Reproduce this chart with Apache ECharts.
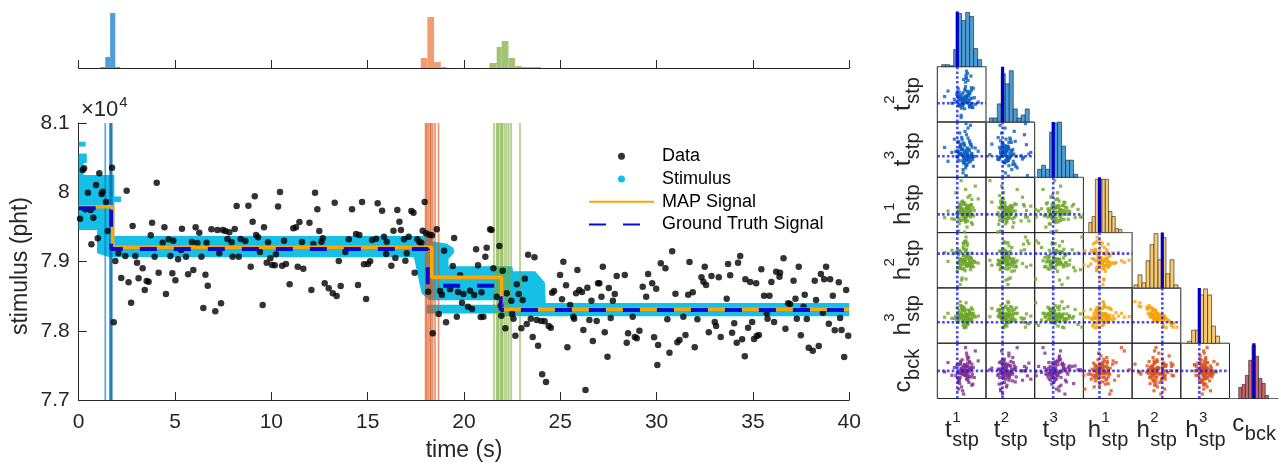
<!DOCTYPE html>
<html>
<head>
<meta charset="utf-8">
<title>Step detection posterior</title>
<script src="https://cdn.jsdelivr.net/npm/echarts@6.0.0/dist/echarts.min.js"></script>
<style>
  html, body { margin: 0; padding: 0; background: #ffffff; }
  #chart { width: 1281px; height: 466px; }
</style>
</head>
<body>
<div id="chart"></div>
<script>
// ---------------- recorded photon counts ----------------
const dataTime = [
  0.07,0.21,0.28,0.34,0.48,0.62,0.66,0.76,0.90,0.99,1.07,1.19,1.24,1.42,1.50,1.73,1.82,1.90,2.06,2.21,
  2.42,2.49,2.59,2.72,2.80,2.94,3.03,3.11,3.32,3.43,3.53,3.63,3.74,3.81,3.94,4.05,4.15,4.36,4.45,4.53,
  4.67,4.76,4.86,4.91,5.02,5.16,5.31,5.36,5.57,5.68,5.88,5.95,6.07,6.16,6.26,6.37,6.47,6.58,6.64,6.70,
  6.89,7.09,7.20,7.30,7.39,7.48,7.61,7.72,7.82,7.94,7.99,8.10,8.20,8.31,8.41,8.65,8.81,8.93,9.03,9.14,
  9.21,9.31,9.41,9.55,9.62,9.76,9.83,9.95,10.04,10.18,10.24,10.35,10.45,10.56,10.66,10.76,10.95,11.14,11.28,11.37,
  11.46,11.59,11.66,11.98,12.08,12.18,12.27,12.39,12.49,12.60,12.67,12.77,12.98,13.19,13.29,13.39,13.50,
  13.60,13.84,14.02,14.19,14.40,14.50,14.57,14.71,14.81,14.92,15.02,15.13,15.23,15.44,15.52,15.75,15.85,15.96,15.99,16.23,
  16.34,16.44,16.54,16.65,16.73,16.89,16.96,17.03,17.13,17.27,17.38,17.44,17.58,17.69,17.79,17.86,17.96,18.03,18.14,18.21,
  18.34,18.38,18.59,18.69,18.76,18.86,18.97,19.07,19.28,19.42,19.49,19.63,19.69,19.80,19.90,19.97,20.21,
  20.32,20.42,20.53,20.63,20.73,20.87,20.91,21.01,21.11,21.18,21.36,21.43,21.53,21.70,21.84,21.91,21.94,22.01,22.15,22.22,
  22.46,22.50,22.57,22.67,22.74,22.84,22.98,23.05,23.16,23.26,23.33,23.47,23.57,23.66,23.78,23.85,24.02,24.06,24.19,24.26,
  24.40,24.51,24.58,24.68,24.99,25.09,25.16,25.30,25.37,25.51,25.68,25.72,25.82,25.89,25.99,26.13,26.20,26.31,26.41,26.51,
  26.62,26.69,26.89,26.96,
  27.03,27.14,27.21,27.31,27.45,27.52,27.62,27.73,27.83,27.93,28.35,28.45,28.52,28.76,28.87,28.97,29.11,29.28,29.46,29.56,
  29.77,29.87,29.98,30.04,30.08,30.22,30.46,30.56,30.67,30.81,30.98,31.08,31.19,31.39,31.50,31.64,31.71,31.88,31.98,32.12,
  32.33,32.43,32.50,32.57,32.71,32.85,33.02,33.09,33.23,33.33,33.71,
  33.64,33.82,33.92,34.03,34.16,34.23,34.34,34.44,34.58,34.61,34.75,34.86,34.96,35.06,35.17,35.20,35.31,35.44,35.58,35.72,
  35.76,35.86,35.96,36.10,36.21,36.38,36.41,36.59,36.69,36.83,36.93,37.11,37.21,37.28,37.38,37.49,37.63,37.69,37.80,37.90,
  38.11,38.21,38.28,38.42,38.53,38.63,38.70,38.80,38.94,39.01,39.15,39.25,39.46,39.53,39.60,39.74,39.84,39.95
];
const dataValue = [
  79618,80321,80345,79753,79994,79744,79248,79633,80104,79334,80273,79975,80008,79859,79440,80355,78122,79007,79118,78762,
  79079,80023,78699,78405,79512,79079,78983,78757,78901,78588,78718,78709,79378,79561,79070,80138,78839,79272,79493,78531,
  79320,79079,78829,79301,78728,79031,79166,79474,79070,78815,79281,78877,79493,79267,79416,79070,78328,78810,79272,78651,
  79464,78280,79455,79118,78396,79455,79440,79325,79421,79277,79070,79469,79801,79070,79325,79296,79806,78925,79575,79941,
  79383,79349,79137,78372,79493,78983,79277,79046,78949,78945,79103,79796,80003,78940,79301,78964,78670,79479,79493,78925,
  79570,79281,78896,79561,78588,79253,79994,79753,79440,79286,79334,78685,78612,78540,79849,78502,79007,
  78646,79137,79320,79753,79397,78661,79383,79859,78959,78458,78964,79002,79310,79330,79840,79734,79358,79108,79286,78940,
  79445,79050,79744,79575,79455,79320,79012,79118,79358,79729,79705,78839,79320,79281,79272,79445,79859,79407,78564,79387,
  79378,77963,79464,78242,78574,78521,79156,78122,78598,78935,79339,78203,78560,78800,78405,78531,78348,
  78579,78314,78516,79176,78945,78199,78555,78203,79070,79200,79464,79455,78901,78492,79224,78362,78218,78868,78035,78540,
  78434,78242,78175,77929,78670,78531,78035,78444,78752,78098,79099,78175,77910,79060,78155,77785,78141,77371,78136,77260,
  78069,78045,78550,78574,78805,78454,78998,78656,77761,78372,78203,78175,78540,78877,78588,78560,78011,77145,78622,78155,
  78434,77852,78141,78685,
  78685,78492,78925,77977,77626,78617,78184,78434,78531,78791,78805,77828,77963,78203,77910,77890,78001,78637,78492,78819,
  78685,77905,78608,77505,77794,78973,78901,78165,77684,79147,78535,77833,77866,78203,77939,78521,78993,78555,77761,78165,
  78771,78709,78925,78661,77977,78790,78126,78069,78771,77910,78964,
  78463,78800,77972,78107,77828,78983,79079,77876,77631,78742,78045,78704,78126,77881,78685,77924,77939,78887,78507,78251,
  78175,78507,78704,78126,78853,78781,78839,79046,78030,78396,78386,78723,78463,78175,78925,77934,78348,78521,78170,77756,
  77712,78723,78444,77780,78819,78261,78742,78925,78102,78742,78507,78006,78699,78184,78011,77621,78588,77929
];

// ---------------- step signals: change times (s) and plateau levels (pht) ----------------
const mapSteps = [1.76, 18.33, 21.95];
const mapLevels = [79790, 79205, 78771, 78310];
const truthSteps = [1.68, 18.12, 21.91];
const truthLevels = [79770, 79180, 78650, 78300];

// ---------------- stimulus envelope outlines, [time, pht] ----------------
const stimMain = [
  [0, 80250], [1.85, 80250], [1.85, 79940], [2.2, 79940], [2.2, 79860], [1.85, 79860], [1.85, 79370],
  [18.38, 79370], [18.38, 79290], [19.1, 79260], [19.45, 79200], [19.5, 79130], [19.2, 79040], [19.2, 78930],
  [22.5, 78930], [22.55, 78860], [23.7, 78860], [24.2, 78700], [24.25, 78400], [40, 78400],
  [40, 78210], [21.85, 78210], [21.85, 78440], [18.2, 78440], [17.8, 78540], [17.6, 78800], [17.45, 79000], [17.4, 79060],
  [1.6, 79060], [0.95, 79120], [0.95, 79455], [0, 79455]
];
const stimLowerStrip = [[18.05, 78375], [21.85, 78375], [21.85, 78250], [18.05, 78250]];
const stimTopA = [[0, 80250], [0.25, 80250], [0.25, 80420], [0.42, 80420], [0.42, 80560], [0, 80560]];
const stimTopB = [[0, 80660], [0.36, 80660], [0.36, 80730], [0, 80730]];

// ---------------- change-point draws (s) ----------------
const stepDraws1 = [1.38, 1.62, 1.66, 1.69, 1.72];
const stepDraws2 = [18.01, 18.06, 18.15, 18.24, 18.29, 18.38, 18.50, 18.68];
const stepDraws3 = [21.56, 21.70, 21.75, 21.81, 21.91, 21.96, 22.01, 22.12, 22.22, 22.33, 22.45, 22.91];

// ---------------- change-time histograms (bin edges, counts) ----------------
const stepHistEdges1 = [1.13, 1.38, 1.63, 1.90, 2.15];
const stepHistCounts1 = [1, 11, 55, 1];
const stepHistEdges2 = [17.76, 18.10, 18.45, 18.80, 19.10];
const stepHistCounts2 = [10, 51, 6, 1];
const stepHistEdges3 = [21.32, 21.70, 21.96, 22.31, 22.65, 23.00, 23.50, 24.00];
const stepHistCounts3 = [5, 21, 27, 10, 2, 1, 1];

// ---------------- posterior samples ----------------
const sampT1 = [
  1.79,1.88,1.74,1.93,1.82,1.70,1.98,1.85,1.77,1.91, 1.72,1.96,1.80,1.87,1.65,1.84,2.00,1.75,1.89,1.81,
  1.94,1.71,1.86,1.78,1.97,1.62,1.90,1.83,1.73,1.95, 1.49,1.85,1.76,1.92,1.80,2.05,1.69,1.87,1.82,1.99,
  1.74,1.89,1.84,1.77,1.93,1.67,1.86,2.11,1.79,1.96, 1.72,1.90,1.83,1.88,1.75,2.01,1.81,1.85,1.70,1.92,
  1.78,1.94,1.42,1.87,1.80,1.97,1.73,1.84,1.89,1.76, 1.91,1.82,1.68,1.95,1.79,1.86,2.03,1.74,1.88,1.83,
  1.71,1.93,1.77,1.85,1.57,1.90,1.81,1.98,1.75,1.87
];
const sampT2 = [
  18.13,18.20,18.06,18.29,18.16,18.38,18.11,18.23,18.03,18.33, 18.18,18.61,18.09,18.25,18.14,18.36,18.05,18.22,18.66,18.17,
  18.30,18.08,18.24,18.12,18.40,18.19,18.53,18.15,18.27,18.07, 18.34,18.21,17.90,18.16,18.31,18.10,18.26,18.57,18.18,18.04,
  18.23,18.13,18.37,18.20,18.08,18.28,18.63,18.14,18.22,18.11, 18.32,18.17,18.02,18.25,18.19,18.39,18.12,18.50,18.21,18.15,
  18.28,18.06,18.24,18.70,18.18,18.35,18.10,18.23,18.16,17.86, 18.26,18.13,18.31,18.20,18.08,18.59,18.22,18.17,18.33,18.14,
  18.25,18.05,18.19,18.42,18.12,18.27,18.55,18.21,18.09,18.24
];
const sampT3 = [
  21.94,21.85,22.07,22.01,21.80,22.18,21.96,21.89,22.25,22.03, 21.83,22.12,21.92,21.74,22.00,22.36,21.88,22.09,21.95,21.79,
  22.16,21.98,21.55,22.04,21.91,22.22,21.86,22.10,21.96,22.47, 21.82,22.01,22.13,21.92,21.67,22.06,21.88,22.30,21.98,21.85,
  22.09,21.95,21.77,22.03,22.19,21.91,21.56,22.00,21.83,22.12, 21.94,22.42,21.86,22.04,21.96,21.73,22.15,21.92,22.01,21.80,
  22.21,21.89,22.07,21.98,21.61,21.95,22.33,21.85,22.06,21.94, 21.88,22.13,22.00,21.82,22.03,22.50,21.91,22.10,21.76,21.96,
  22.16,21.86,22.04,21.70,21.98,22.24,21.89,22.07,21.95,21.83
];
const sampH1 = [
  590,600,579,606,585,596,617,582,593,605, 573,597,609,588,629,584,602,591,578,611,
  594,560,599,587,608,581,621,591,603,585, 596,576,612,590,600,641,584,605,593,572,
  597,588,609,579,602,591,585,618,596,606, 582,599,558,593,603,587,611,578,594,600,
  590,624,584,605,596,575,608,588,599,651, 591,581,602,594,614,585,597,606,567,593,
  603,588,599,635,582,596,608,590,600,587
];
const sampH2 = [
  516,508,534,520,503,513,531,550,518,511, 536,506,515,523,532,499,517,510,548,526,
  514,535,484,519,507,530,512,552,521,501, 516,533,509,525,541,514,504,537,518,511,
  474,529,515,520,508,534,553,513,502,522, 517,531,510,544,516,506,527,535,512,519,
  486,514,532,509,549,521,505,515,530,518, 511,538,498,523,513,560,516,533,507,520,
  528,512,482,517,536,510,547,514,503,525
];
const sampH3 = [
  371,362,361,352,377,354,355,349,360,363, 357,365,358,360,361,373,363,363,347,363,
  356,359,385,354,376,357,356,341,365,365, 366,343,375,356,354,359,367,357,354,373,
  387,364,352,366,365,353,348,361,375,354, 371,346,371,352,358,366,356,358,362,365,
  378,367,359,361,344,355,360,372,363,360, 372,340,377,355,373,341,361,360,359,361,
  350,371,379,366,357,362,350,359,380,363
];
const sampC = [
  78297,78308,78288,78317,78300,78280,78312,78292,78303,78324, 78285,78305,78295,78332,78291,78309,78276,78300,78314,78294,
  78303,78267,78298,78320,78289,78306,78283,78311,78295,78302, 78315,78292,78305,78279,78297,78336,78288,78308,78300,78294,
  78312,78286,78303,78271,78298,78309,78291,78318,78295,78305, 78282,78302,78292,78327,78297,78306,78258,78300,78311,78289,
  78294,78315,78298,78285,78308,78303,78277,78295,78321,78302, 78291,78311,78297,78305,78264,78300,78288,78314,78294,78306,
  78283,78303,78297,78342,78292,78309,78300,78274,78317,78295
];

// parameter names, true values and plotting ranges
const paramBase = ['t', 't', 't', 'h', 'h', 'h', 'c'];
const paramSup = ['1', '2', '3', '1', '2', '3', ''];
const paramSub = ['stp', 'stp', 'stp', 'stp', 'stp', 'stp', 'bck'];
const paramTruth = [1.68, 18.12, 21.91, 590, 530, 350, 78300];
const paramMin = [1.27, 17.78, 21.53, 557, 468, 312, 78250];
const paramMax = [2.27, 18.78, 22.53, 657, 568, 412, 78350];

// marginal histograms of the full sample set (first bin edge, bin width, counts)
const histStart = [1.36, 17.848, 21.59, 568, 472, 326, 78269];
const histWidth = [0.082, 0.082, 0.082, 6.8, 8.2, 8.2, 6.8];
const histCountsT1 = [2, 2, 1, 17, 53, 46, 54, 50, 18, 7];
const histCountsT2 = [4, 4, 18, 48, 38, 51, 13, 4, 7, 13];
const histCountsT3 = [8, 12, 8, 45, 54, 55, 31, 17, 17, 3];
const histCountsH1 = [10, 16, 53, 53, 53, 53, 21, 16, 4, 3];
const histCountsH2 = [3, 13, 5, 27, 43, 54, 28, 50, 14, 28, 3];
const histCountsH3 = [2, 13, 13, 48, 54, 48, 17, 7];
const histCountsC = [11, 14, 23, 38, 53, 42, 20, 15, 3];

// ---------------- styling ----------------
const FONT = '"Liberation Sans", Arial, Helvetica, sans-serif';
const INK = '#262626';
const STIM = '#16bfe6';
const MAPC = '#ffa500';
const GTC = '#0a0ccc';

const samples = [sampT1, sampT2, sampT3, sampH1, sampH2, sampH3, sampC];
const histCounts = [histCountsT1, histCountsT2, histCountsT3, histCountsH1, histCountsH2, histCountsH3, histCountsC];

const grid = [], xAxis = [], yAxis = [], series = [];
function addGrid(g, xa, ya) {
  const i = grid.length;
  grid.push(g);
  xAxis.push(Object.assign({ type: 'value', gridIndex: i, splitLine: { show: false } }, xa));
  yAxis.push(Object.assign({ type: 'value', gridIndex: i, splitLine: { show: false } }, ya));
  return i;
}
const axisLineStyle = { show: true, onZero: false, lineStyle: { color: INK, width: 1 } };
const tickStyle = { show: true, inside: true, length: 8, lineStyle: { color: INK, width: 1 } };

// main time-series panel
const MAIN = addGrid(
  { left: 78.7, top: 123, width: 770.5, height: 277 },
  { min: 0, max: 40, interval: 5, axisLine: axisLineStyle, axisTick: tickStyle,
    axisLabel: { show: true, fontSize: 21, color: INK, fontFamily: FONT, margin: 12 } },
  { min: 77000, max: 81000, interval: 1000, axisLine: axisLineStyle, axisTick: tickStyle,
    axisLabel: { show: true, fontSize: 21, color: INK, fontFamily: FONT, margin: 9,
                 formatter: v => String(v / 10000) } }
);
// change-time histogram strip above it
const STRIP = addGrid(
  { left: 78.7, top: 12, width: 770.5, height: 56 },
  { min: 0, max: 40, interval: 5, axisLine: axisLineStyle, axisTick: tickStyle, axisLabel: { show: false } },
  { min: 0, max: 56, show: false }
);

function stepPoints(steps, levels) {
  const pts = [[0, levels[0]]];
  steps.forEach((s, i) => { pts.push([s, levels[i]]); pts.push([s, levels[i + 1]]); });
  pts.push([40, levels[levels.length - 1]]);
  return pts;
}

const stimPolys = [stimMain, stimLowerStrip, stimTopA, stimTopB];
series.push({
  name: 'Stimulus', type: 'custom', xAxisIndex: MAIN, yAxisIndex: MAIN, z: 1, silent: true,
  itemStyle: { color: STIM },
  data: stimPolys.map(p => p[0]),
  renderItem: (params, api) => ({
    type: 'polygon',
    shape: { points: stimPolys[params.dataIndex].map(p => api.coord(p)) },
    style: { fill: STIM }
  })
});

function vLineSeries(draws, color) {
  return {
    type: 'custom', xAxisIndex: MAIN, yAxisIndex: MAIN, z: 2, silent: true,
    data: draws.map(t => [t, 79000]),
    renderItem: (params, api) => {
      const x = api.coord([api.value(0), 79000])[0];
      const cs = params.coordSys;
      return { type: 'line', shape: { x1: x, y1: cs.y, x2: x, y2: cs.y + cs.height },
               style: { stroke: color, lineWidth: 1.8 } };
    }
  };
}
series.push(vLineSeries(stepDraws1, 'rgba(0,114,189,0.6)'));
series.push(vLineSeries(stepDraws2, 'rgba(217,83,25,0.6)'));
series.push(vLineSeries(stepDraws3, 'rgba(119,172,48,0.55)'));

series.push({
  name: 'Data', type: 'scatter', xAxisIndex: MAIN, yAxisIndex: MAIN, z: 3, silent: true,
  symbol: 'circle', symbolSize: 6.5, itemStyle: { color: '#000000' },
  data: dataTime.map((t, i) => [t, dataValue[i]])
});
series.push({
  name: 'MAP Signal', type: 'line', xAxisIndex: MAIN, yAxisIndex: MAIN, z: 4, silent: true,
  symbol: 'none', lineStyle: { color: MAPC, width: 3.6 }, itemStyle: { color: MAPC },
  data: stepPoints(mapSteps, mapLevels)
});
series.push({
  name: 'Ground Truth Signal', type: 'line', xAxisIndex: MAIN, yAxisIndex: MAIN, z: 5, silent: true,
  symbol: 'none', lineStyle: { color: GTC, width: 4, type: [17, 17] }, itemStyle: { color: GTC },
  data: stepPoints(truthSteps, truthLevels)
});

function barRender(fill, stroke, lw) {
  return (params, api) => {
    const p0 = api.coord([api.value(0), api.value(2)]);
    const p1 = api.coord([api.value(1), 0]);
    return { type: 'rect', shape: { x: p0[0], y: p0[1], width: p1[0] - p0[0], height: p1[1] - p0[1] },
             style: { fill: fill, stroke: stroke, lineWidth: lw } };
  };
}
[[stepHistEdges1, stepHistCounts1, '#4f9ed8'],
 [stepHistEdges2, stepHistCounts2, '#f39b73'],
 [stepHistEdges3, stepHistCounts3, '#a1c372']].forEach(([edges, counts, col]) => {
  series.push({
    type: 'custom', xAxisIndex: STRIP, yAxisIndex: STRIP, silent: true, z: 2,
    encode: { x: [0, 1], y: 2 },
    data: counts.map((n, i) => [edges[i], edges[i + 1], n]),
    renderItem: barRender(col, null, 0)
  });
});

// ---------------- corner plot ----------------
const CX0 = 937.3, CY0 = 11.4, CW = 48.7, CH = 55.3;
function pairColor(r, c) {
  const kr = paramBase[r], kc = paramBase[c];
  if (kr === 't') return '#0a5fbd';
  if (kr === 'h') return kc === 't' ? '#6ea52a' : '#f6a40c';
  return kc === 't' ? '#7e2f8e' : '#d9531a';
}
function histColor(k) {
  return paramBase[k] === 't' ? '#4b9bd5' : paramBase[k] === 'h' ? '#f8ca70' : '#c9676f';
}
const dotted = { color: 'rgba(25,25,235,0.78)', width: 2.6, type: [2.6, 2.2], cap: 'butt' };

for (let r = 0; r < 7; r++) {
  for (let c = 0; c <= r; c++) {
    const box = { left: CX0 + c * CW, top: CY0 + r * CH, width: CW, height: CH };
    if (r === c) {
      const gi = addGrid(box,
        { min: paramMin[c], max: paramMax[c], axisLine: { show: true, lineStyle: { color: '#6b6b6b', width: 1 } },
          axisTick: { show: false }, axisLabel: { show: false } },
        { min: 0, max: 55, show: false });
      const counts = histCounts[c];
      series.push({
        type: 'custom', xAxisIndex: gi, yAxisIndex: gi, silent: true, z: 2,
        encode: { x: [0, 1], y: 2 },
        data: counts.map((n, i) => [histStart[c] + i * histWidth[c], histStart[c] + (i + 1) * histWidth[c], n]),
        renderItem: barRender(histColor(c), '#1c1c1c', 0.6)
      });
      series.push({
        type: 'line', xAxisIndex: gi, yAxisIndex: gi, silent: true, z: 4, symbol: 'none',
        lineStyle: { color: '#0000c4', width: 3.2 },
        data: [[paramTruth[c], 0], [paramTruth[c], 55]]
      });
    } else {
      box.show = true; box.borderColor = INK; box.borderWidth = 1; box.backgroundColor = 'transparent';
      const gi = addGrid(box,
        { min: paramMin[c], max: paramMax[c], show: false },
        { min: paramMin[r], max: paramMax[r], show: false });
      series.push({
        type: 'scatter', xAxisIndex: gi, yAxisIndex: gi, silent: true, z: 2,
        symbol: 'rect', symbolSize: 3.2, itemStyle: { color: pairColor(r, c) },
        data: samples[c].map((v, k) => [v, samples[r][k]])
      });
      series.push({
        type: 'line', xAxisIndex: gi, yAxisIndex: gi, silent: true, z: 4, symbol: 'none', lineStyle: dotted,
        data: [[paramTruth[c], paramMin[r]], [paramTruth[c], paramMax[r]]]
      });
      series.push({
        type: 'line', xAxisIndex: gi, yAxisIndex: gi, silent: true, z: 4, symbol: 'none', lineStyle: dotted,
        data: [[paramMin[c], paramTruth[r]], [paramMax[c], paramTruth[r]]]
      });
    }
  }
}

// ---------------- text: axis titles and parameter symbols ----------------
const mctx = document.createElement('canvas').getContext('2d');
function textWidth(s, size) { mctx.font = size + 'px ' + FONT; return mctx.measureText(s).width; }
function ts(text, size, align) {
  return { text: text, font: size + 'px ' + FONT, fill: INK,
           textAlign: align, align: align, textVerticalAlign: 'middle', verticalAlign: 'middle' };
}
function symLabel(k, x, y, rotation, shift) {
  const base = paramBase[k], sup = paramSup[k], sub = paramSub[k];
  const wb = textWidth(base, 24);
  const ws = Math.max(textWidth(sub, 20), sup ? textWidth(sup, 15) : 0);
  const x0 = -(wb + ws) / 2;
  const kids = [
    { type: 'text', x: x0, y: shift, style: ts(base, 24, 'left') },
    { type: 'text', x: x0 + wb + 0.5, y: shift + 10, style: ts(sub, 20, 'left') }
  ];
  if (sup) kids.push({ type: 'text', x: x0 + wb + 0.5, y: shift - 13, style: ts(sup, 15, 'left') });
  return { type: 'group', x: x, y: y, rotation: rotation, silent: true, children: kids };
}

const graphic = [
  { type: 'text', x: 20.5, y: 266, rotation: Math.PI / 2, silent: true, style: ts('stimulus (pht)', 23, 'center') },
  { type: 'text', x: 464, y: 451, silent: true, style: ts('time (s)', 23, 'center') },
  { type: 'text', x: 81, y: 110, silent: true, style: ts('\u00d710', 22, 'left') },
  { type: 'text', x: 82 + textWidth('\u00d710', 22), y: 103, silent: true, style: ts('4', 15, 'left') }
];
for (let k = 0; k < 7; k++) {
  graphic.push(symLabel(k, CX0 + (k + 0.5) * CW, 430.4, 0, paramSup[k] ? 0 : -6));
  if (k > 0) graphic.push(symLabel(k, 903, CY0 + (k + 0.5) * CH, Math.PI / 2, 0));
}

const hiddenMarker = { color: 'rgba(0,0,0,0)', borderWidth: 0 };
const chart = echarts.init(document.getElementById('chart'), null, { renderer: 'canvas' });
chart.setOption({
  animation: false,
  backgroundColor: '#ffffff',
  textStyle: { fontFamily: FONT },
  grid: grid,
  xAxis: xAxis,
  yAxis: yAxis,
  legend: {
    orient: 'vertical', left: 588, top: 145, padding: 0, itemGap: 0,
    itemWidth: 65, itemHeight: 7, selectedMode: false,
    textStyle: { fontSize: 18, color: '#000000', fontFamily: FONT, lineHeight: 22.7, padding: [0, 0, 0, 3] },
    data: [
      { name: 'Data', icon: 'circle' },
      { name: 'Stimulus', icon: 'circle' },
      { name: 'MAP Signal', itemStyle: hiddenMarker },
      { name: 'Ground Truth Signal', itemStyle: hiddenMarker }
    ]
  },
  graphic: graphic,
  series: series
});
</script>
</body>
</html>
